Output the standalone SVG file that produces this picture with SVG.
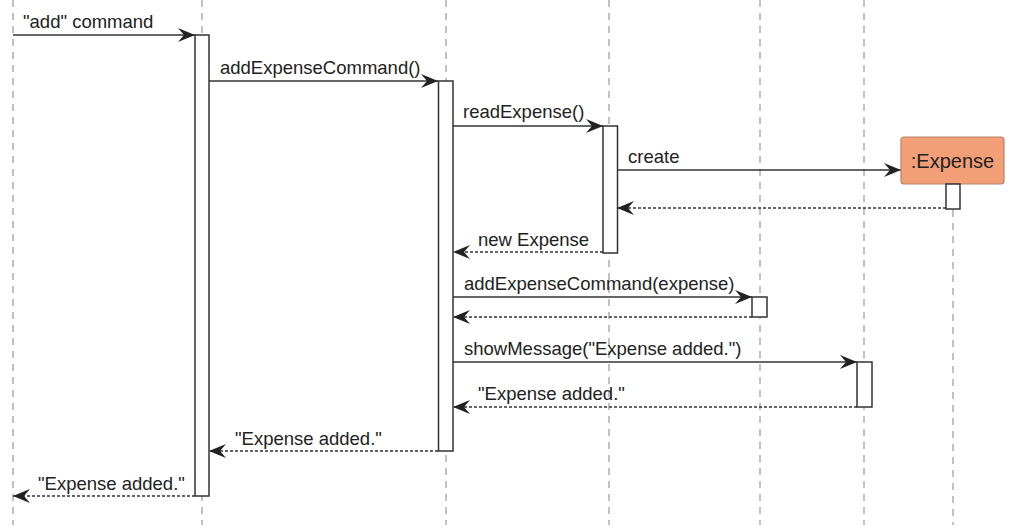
<svg xmlns="http://www.w3.org/2000/svg" width="1021" height="530" viewBox="0 0 1021 530">
<style>
.life{stroke:#999;stroke-width:1.2;stroke-dasharray:7 6;fill:none}
.bar{fill:#fff;stroke:#333;stroke-width:1.5}
.msg{stroke:#333;stroke-width:1.5;fill:none}
.ret{stroke:#333;stroke-width:1.3;stroke-dasharray:3 2;fill:none}
.lbl{font-family:"Liberation Sans",Arial,sans-serif;font-size:18.5px;fill:#222}
.obj{font-family:"Liberation Sans",Arial,sans-serif;font-size:20px;fill:#222}
</style>
<defs>
<marker id="ah" markerUnits="userSpaceOnUse" markerWidth="20" markerHeight="16" viewBox="-18 -8 20 16" refX="0" refY="0" orient="auto">
<path d="M0,0 L-17,-7 L-11,0 L-17,7 Z" fill="#222"/>
</marker>
</defs>
<rect width="1021" height="530" fill="#fff"/>
<g id="lifelines">
<line class="life" x1="13" y1="0" x2="13" y2="525"/>
<line class="life" x1="202" y1="0" x2="202" y2="525"/>
<line class="life" x1="446" y1="0" x2="446" y2="525"/>
<line class="life" x1="609" y1="0" x2="609" y2="525"/>
<line class="life" x1="760" y1="0" x2="760" y2="525"/>
<line class="life" x1="864" y1="0" x2="864" y2="525"/>
<line class="life" x1="953" y1="184" x2="953" y2="525"/>
</g>
<g id="connectors">
<line class="msg" x1="13" y1="35" x2="195" y2="35" marker-end="url(#ah)"/>
<line class="msg" x1="209" y1="81" x2="438" y2="81" marker-end="url(#ah)"/>
<line class="msg" x1="453" y1="126" x2="603" y2="126" marker-end="url(#ah)"/>
<line class="msg" x1="617" y1="170" x2="901" y2="170" marker-end="url(#ah)"/>
<line class="ret" x1="946" y1="208" x2="617" y2="208" marker-end="url(#ah)"/>
<line class="ret" x1="603" y1="252" x2="453" y2="252" marker-end="url(#ah)"/>
<line class="msg" x1="453" y1="297" x2="752" y2="297" marker-end="url(#ah)"/>
<line class="ret" x1="752" y1="317" x2="453" y2="317" marker-end="url(#ah)"/>
<line class="msg" x1="453" y1="362" x2="857" y2="362" marker-end="url(#ah)"/>
<line class="ret" x1="857" y1="407" x2="453" y2="407" marker-end="url(#ah)"/>
<line class="ret" x1="438" y1="451" x2="209" y2="451" marker-end="url(#ah)"/>
<line class="ret" x1="195" y1="496" x2="13" y2="496" marker-end="url(#ah)"/>
<text class="lbl" x="23" y="28">"add" command</text>
<text class="lbl" x="220" y="74">addExpenseCommand()</text>
<text class="lbl" x="463" y="118">readExpense()</text>
<text class="lbl" x="628" y="163">create</text>
<text class="lbl" x="478" y="246">new Expense</text>
<text class="lbl" x="464" y="290">addExpenseCommand(expense)</text>
<text class="lbl" x="464" y="355">showMessage("Expense added.")</text>
<text class="lbl" x="478" y="400">"Expense added."</text>
<text class="lbl" x="235" y="445">"Expense added."</text>
<text class="lbl" x="38" y="490">"Expense added."</text>
</g>
<g id="bar-controller"><rect class="bar" x="195" y="35" width="14" height="461"/></g>
<g id="bar-parser"><rect class="bar" x="438.5" y="81" width="14.5" height="370"/></g>
<g id="bar-reader"><rect class="bar" x="603" y="126" width="14.5" height="127"/></g>
<g id="expense">
<rect x="901" y="137" width="103" height="47" rx="3" fill="#f29f77" stroke="#b98466" stroke-width="1.2"/>
<text class="obj" x="952.5" y="168" text-anchor="middle">:Expense</text>
<rect class="bar" x="946" y="184" width="14" height="25"/>
</g>
<g id="bar-list"><rect class="bar" x="752" y="297" width="15" height="20"/></g>
<g id="bar-ui"><rect class="bar" x="857" y="362" width="15" height="45"/></g>
</svg>
